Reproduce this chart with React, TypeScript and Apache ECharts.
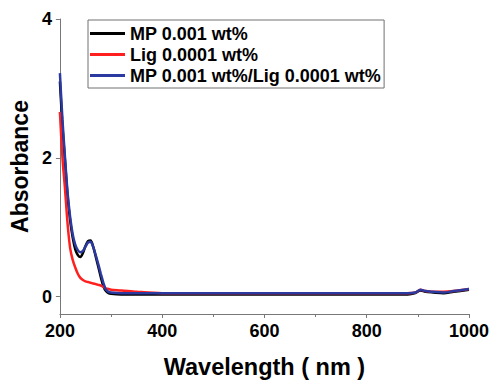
import React, { useEffect, useRef } from "react";
import * as echarts from "echarts";

const wavelengths = [200, 205, 210, 215, 220, 225, 230, 235, 240, 245, 250, 255, 260, 265, 270, 275, 280, 285, 290, 295, 300, 320, 350, 400, 500, 600, 700, 800, 850, 880, 895, 905, 915, 930, 950, 970, 1000];

const mpValues = [3.1, 2.45, 1.95, 1.45, 1.1, 0.85, 0.68, 0.6, 0.57, 0.63, 0.73, 0.8, 0.81, 0.72, 0.58, 0.43, 0.28, 0.15, 0.08, 0.05, 0.04, 0.03, 0.03, 0.03, 0.03, 0.03, 0.03, 0.03, 0.03, 0.03, 0.05, 0.09, 0.07, 0.06, 0.05, 0.07, 0.1];

const ligValues = [2.66, 2.0, 1.55, 1.05, 0.7, 0.53, 0.42, 0.33, 0.27, 0.24, 0.22, 0.21, 0.2, 0.19, 0.18, 0.17, 0.16, 0.14, 0.12, 0.11, 0.1, 0.09, 0.07, 0.05, 0.05, 0.05, 0.05, 0.05, 0.05, 0.05, 0.06, 0.1, 0.08, 0.07, 0.07, 0.08, 0.11];

const mixValues = [3.22, 2.55, 2.0, 1.5, 1.15, 0.9, 0.75, 0.67, 0.64, 0.66, 0.72, 0.78, 0.79, 0.72, 0.6, 0.47, 0.33, 0.2, 0.1, 0.07, 0.06, 0.05, 0.05, 0.05, 0.05, 0.05, 0.05, 0.05, 0.05, 0.05, 0.06, 0.1, 0.08, 0.07, 0.06, 0.08, 0.11];

const seriesNames = ["MP 0.001 wt%", "Lig 0.0001 wt%", "MP 0.001 wt%/Lig 0.0001 wt%"];
const seriesColors = ["#000000", "#ff1f1f", "#2b3aa0"];
const yTickValues = [0, 2, 4];

const FONT = "'Liberation Sans', Arial, sans-serif";

export default function App() {
  const ref = useRef<HTMLDivElement>(null);
  useEffect(() => {
    if (!ref.current) return;
    const chart = echarts.init(ref.current, undefined, { renderer: "svg" });
    const valueSets = [mpValues, ligValues, mixValues];
    chart.setOption({
      animation: false,
      backgroundColor: "#ffffff",
      grid: { left: 59, right: 22, top: 19, bottom: 61, containLabel: false },
      legend: {
        show: true,
        orient: "vertical",
        left: 88,
        top: 20,
        padding: [3, 3, 2, 2],
        itemGap: 0,
        itemWidth: 35,
        itemHeight: 3,
        icon: "rect",
        borderColor: "#707070",
        borderWidth: 1,
        textStyle: { fontFamily: FONT, fontWeight: "bold", fontSize: 18, color: "#000", lineHeight: 21 },
        data: seriesNames,
      },
      xAxis: {
        type: "value",
        min: 200,
        max: 1000,
        interval: 200,
        name: "Wavelength ( nm )",
        nameLocation: "middle",
        nameGap: 41,
        nameTextStyle: { fontFamily: FONT, fontWeight: "bold", fontSize: 23.5, color: "#000" },
        axisLine: { show: true, onZero: false, lineStyle: { color: "#777", width: 1 } },
        axisTick: { show: true, inside: false, length: 4, lineStyle: { color: "#777" } },
        minorTick: { show: true, splitNumber: 2, length: 3, lineStyle: { color: "#777" } },
        axisLabel: { fontFamily: FONT, fontWeight: "bold", fontSize: 18, color: "#000", margin: 8, formatter: (v: number) => String(v) },
        splitLine: { show: false },
      },
      yAxis: {
        type: "value",
        min: -0.25,
        max: 4,
        name: "Absorbance",
        nameLocation: "middle",
        nameGap: 26,
        nameTextStyle: { fontFamily: FONT, fontWeight: "bold", fontSize: 23, color: "#000" },
        axisLine: { show: true, onZero: false, lineStyle: { color: "#777", width: 1 } },
        axisTick: { show: true, inside: false, length: 4, lineStyle: { color: "#777" }, customValues: yTickValues },
        axisLabel: { fontFamily: FONT, fontWeight: "bold", fontSize: 18, color: "#000", margin: 8, customValues: yTickValues },
        splitLine: { show: false },
      },
      series: seriesNames.map((name, i) => ({
        name,
        type: "line",
        symbol: "none",
        smooth: 0.3,
        color: seriesColors[i],
        lineStyle: { width: 2.5, color: seriesColors[i] },
        data: wavelengths.map((w, j) => [w, valueSets[i][j]]),
      })),
    });
    return () => chart.dispose();
  }, []);
  return <div ref={ref} style={{ width: 492, height: 384, position: "absolute", left: 0, top: 0 }} />;
}
